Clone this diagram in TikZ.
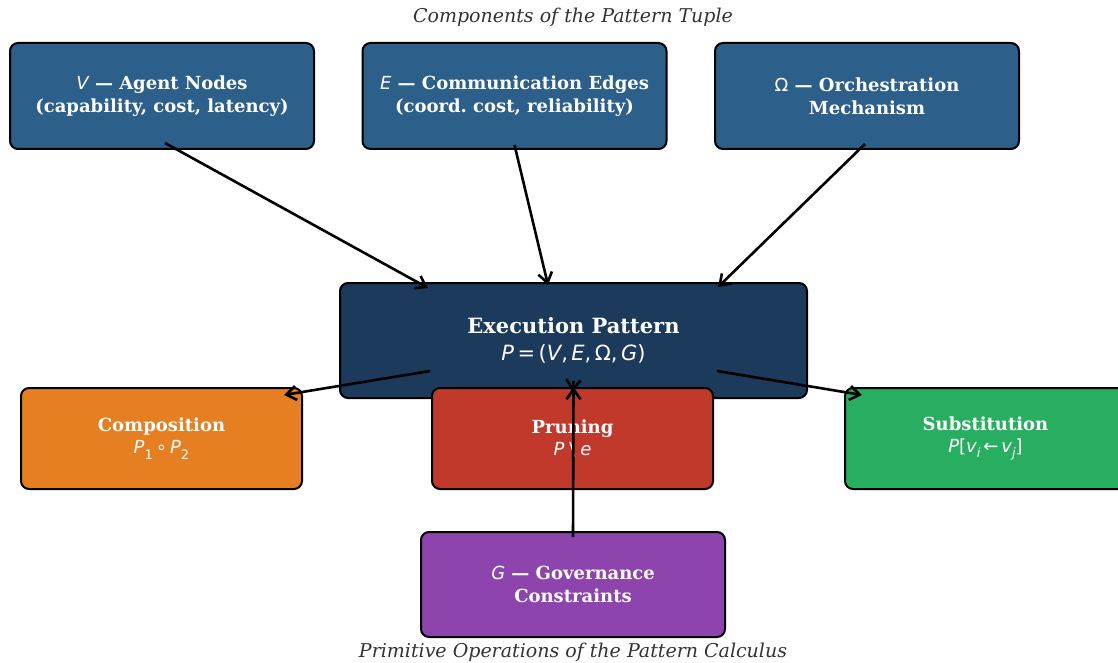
\documentclass[tikz,border=0pt]{standalone}
\usepackage{fontspec}
\setmainfont{DejaVu Serif}
\newfontfamily\msf{DejaVu Sans}
\usetikzlibrary{arrows.meta}
\definecolor{tuplebox}{HTML}{2C5F8A}
\definecolor{patternbox}{HTML}{1B3A5C}
\definecolor{compbox}{HTML}{E67E22}
\definecolor{prunebox}{HTML}{C0392B}
\definecolor{subsbox}{HTML}{27AE60}
\definecolor{govbox}{HTML}{8E44AD}
\definecolor{captiongray}{HTML}{333333}
\newcommand{\mv}[1]{{\msf\mdseries\itshape #1}}
\newcommand{\mup}[1]{{\msf\mdseries #1}}
\newcommand{\lowidx}[1]{\raisebox{-0.3em}{\fontsize{13}{13}\selectfont\msf\mdseries #1}}
\tikzset{
  block/.style={draw=black, line width=2, rounded corners=8, text=white, align=center,
    inner sep=0, font=\fontsize{18}{23}\selectfont\bfseries},
  opbox/.style={block, minimum width=281, minimum height=101, font=\fontsize{18}{22}\selectfont\bfseries},
  flow/.style={-{Straight Barb[length=10,width=14]}, line width=2.6},
  caption/.style={text=captiongray, font=\fontsize{19}{22}\selectfont\itshape},
}
\begin{document}
\begin{tikzpicture}[x=1pt,y=-1pt]
  \useasboundingbox[fill=white] (0,0) rectangle (1118,663);
  % tuple components
  \node[block, fill=tuplebox, minimum width=304, minimum height=106] (agents) at (162,96)
    {\mv{V} --- Agent Nodes\\(capability, cost, latency)};
  \node[block, fill=tuplebox, minimum width=304, minimum height=106] (edges) at (514.5,96)
    {\mv{E} --- Communication Edges\\(coord.\ cost, reliability)};
  \node[block, fill=tuplebox, minimum width=304, minimum height=106] (orch) at (867,96)
    {\mup{Ω} --- Orchestration\\Mechanism};
  % the pattern
  \node[block, fill=patternbox, minimum width=467, minimum height=115,
    font=\fontsize{21}{27}\selectfont\bfseries] (pattern) at (573.5,340.5)
    {Execution Pattern\\\mv{P}\,\mup{=}\,\mup{(}\mv{V}\mup{,}\,\mv{E}\mup{,}\,\mup{Ω}\mup{,}\,\mv{G}\mup{)}};
  % operations
  \node[opbox, fill=compbox] (comp) at (161.5,438.5)
    {Composition\\\mv{P}\lowidx{1}\,\mup{∘}\,\mv{P}\lowidx{2}};
  \node[opbox, fill=prunebox] (prune) at (572.5,438.5)
    {Pruning\\\mv{P}\;\mup{\symbol{"5C}}\;\mv{e}};
  \node[opbox, fill=subsbox] (subs) at (985.5,438.5)
    {Substitution\\\mv{P}\mup{[}\mv{v}\lowidx{\itshape i}\,\mup{←}\,\mv{v}\lowidx{\itshape j}\mup{]}};
  \node[block, fill=govbox, minimum width=304, minimum height=105] (gov) at (573,584.5)
    {\mv{G} --- Governance\\Constraints};
  % captions
  \node[caption] (toptitle) at (573,17) {Components of the Pattern Tuple};
  \node[caption] (bottitle) at (573,652) {Primitive Operations of the Pattern Calculus};
  % connectors
  \draw[flow] ([xshift=3,yshift=7]agents.south) -- ([xshift=-145.5,yshift=-6]pattern.north);
  \draw[flow] ([yshift=5]edges.south) -- ([xshift=-25.5,yshift=-3]pattern.north);
  \draw[flow] ([xshift=-2,yshift=6]orch.south) -- ([xshift=144.5,yshift=-5]pattern.north);
  \draw[flow] ([xshift=-143.5,yshift=-30.5]pattern.center) -- ([xshift=122.5,yshift=-8]comp.north);
  \draw[flow] ([xshift=143.5,yshift=-30.5]pattern.center) -- ([xshift=-123.5,yshift=-8]subs.north);
  \draw[flow] ([yshift=18]pattern.south) -- ([yshift=-5]prune.north);
  \draw[flow] ([yshift=-6]gov.north) -- ([yshift=12]pattern.south);
\end{tikzpicture}
\end{document}
